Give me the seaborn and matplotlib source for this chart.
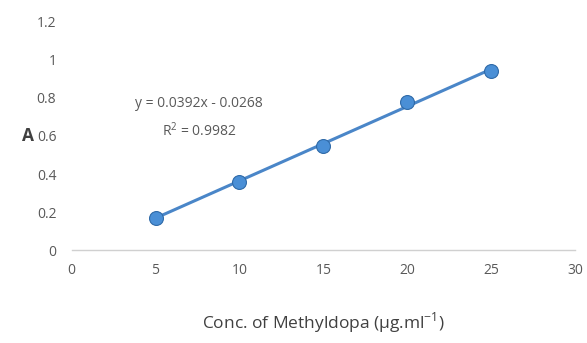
import numpy as np
import pandas as pd
import seaborn as sns
import matplotlib.pyplot as plt

conc = [5, 10, 15, 20, 25]
absorb = [0.17, 0.36, 0.55, 0.78, 0.94]
x_ticks = [0, 5, 10, 15, 20, 25, 30]
y_ticks = [0, 0.2, 0.4, 0.6, 0.8, 1.0, 1.2]
y_labels = ['0', '0.2', '0.4', '0.6', '0.8', '1', '1.2']

df = pd.DataFrame({'conc': conc, 'A': absorb})

sns.set_style('white')
plt.rcParams['font.family'] = ['Open Sans', 'DejaVu Sans']
plt.rcParams['mathtext.fontset'] = 'custom'
plt.rcParams['mathtext.rm'] = 'Open Sans'

fig = plt.figure(figsize=(5.87, 3.43), dpi=100)
ax = fig.add_axes([0.122, 0.271, 0.858, 0.665])

sns.regplot(x='conc', y='A', data=df, ci=None, ax=ax,
            scatter_kws={'s': 100, 'color': '#4a8fd6', 'edgecolor': '#2f6aa8',
                         'linewidths': 0.8, 'alpha': 1, 'zorder': 3},
            line_kws={'color': '#4a86c8', 'lw': 2.2, 'zorder': 2})

ax.set_xlim(0, 30)
ax.set_ylim(0, 1.2)
ax.set_xticks(x_ticks)
ax.set_yticks(y_ticks)
ax.set_yticklabels(y_labels)
ax.tick_params(axis='both', length=0, labelsize=10, labelcolor='#595959')
ax.tick_params(axis='x', pad=9)
ax.tick_params(axis='y', pad=11)

for s in ['top', 'right', 'left']:
    ax.spines[s].set_visible(False)
ax.spines['bottom'].set_color('#d0d0d0')
ax.spines['bottom'].set_linewidth(1)
for c in ax.collections:
    c.set_clip_on(False)

ax.set_xlabel('Conc. of Methyldopa (µg.ml$^{\\mathregular{-1}}$)', fontsize=12.5,
              color='#404040', labelpad=24)
ax.set_ylabel('A', fontsize=12.5, color='#404040', rotation=0,
              fontweight='bold', labelpad=0, va='center', ha='right')
ax.yaxis.set_label_coords(-0.074, 0.5)

ax.text(7.6, 0.77, 'y = 0.0392x - 0.0268', ha='center', va='center',
        fontsize=10, color='#595959')
ax.text(7.6, 0.63, 'R$^{\\mathregular{2}}$ = 0.9982', ha='center', va='center',
        fontsize=10, color='#595959')

fig.savefig('out.png', dpi=100)
